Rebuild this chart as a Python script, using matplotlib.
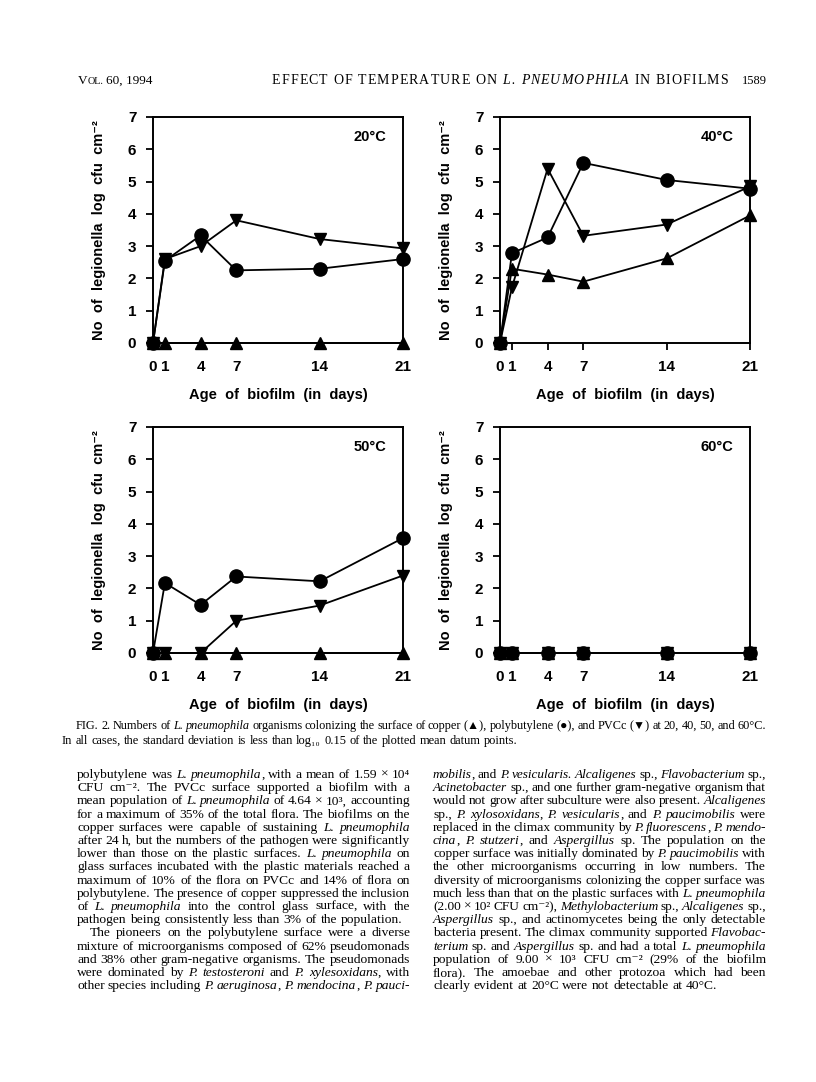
import matplotlib.pyplot as plt

# data (log cfu cm-2)
days = [0, 1, 4, 7, 14, 21]
copper_20 = [0, 0, 0, 0, 0, 0]
poly_20 = [0, 2.55, 3.33, 2.25, 2.30, 2.60]
pvcc_20 = [0, 2.60, 3.00, 3.80, 3.22, 2.93]
copper_40 = [0, 2.30, 2.12, 1.90, 2.62, 3.95]
poly_40 = [0, 2.78, 3.27, 5.58, 5.05, 4.78]
pvcc_40 = [0, 1.72, 5.40, 3.32, 3.67, 4.85]
copper_50 = [0, 0, 0, 0, 0, 0]
poly_50 = [0, 2.17, 1.49, 2.37, 2.22, 3.56]
pvcc_50 = [0, 0, 0, 1.00, 1.47, 2.40]
copper_60 = [0, 0, 0, 0, 0, 0]
poly_60 = [0, 0, 0, 0, 0, 0]
pvcc_60 = [0, 0, 0, 0, 0, 0]
temps = ["20°C", "40°C", "50°C", "60°C"]

header_mid = "EFFECT OF TEMPERATURE ON *L. PNEUMOPHILA* IN BIOFILMS"
page_no = "1589"
caption = [
    "FIG. 2. Numbers of *L. pneumophila* organisms colonizing the surface of copper (▲), polybutylene (●), and PVCc (▼) at 20, 40, 50, and 60°C.",
    "In all cases, the standard deviation is less than log₁₀ 0.15 of the plotted mean datum points.|",
]
left_col = [
    "polybutylene was *L. pneumophila*, with a mean of 1.59 × 10⁴",
    "CFU cm⁻². The PVCc surface supported a biofilm with a",
    "mean population of *L. pneumophila* of 4.64 × 10³, accounting",
    "for a maximum of 35% of the total flora. The biofilms on the",
    "copper surfaces were capable of sustaining *L. pneumophila*",
    "after 24 h, but the numbers of the pathogen were significantly",
    "lower than those on the plastic surfaces. *L. pneumophila* on",
    "glass surfaces incubated with the plastic materials reached a",
    "maximum of 10% of the flora on PVCc and 14% of flora on",
    "polybutylene. The presence of copper suppressed the inclusion",
    "of *L. pneumophila* into the control glass surface, with the",
    "pathogen being consistently less than 3% of the population.|",
    ">The pioneers on the polybutylene surface were a diverse",
    "mixture of microorganisms composed of 62% pseudomonads",
    "and 38% other gram-negative organisms. The pseudomonads",
    "were dominated by *P. testosteroni* and *P. xylesoxidans*, with",
    "other species including *P. aeruginosa*, *P. mendocina*, *P. pauci-*",
]
right_col = [
    "*mobilis*, and *P. vesicularis. Alcaligenes* sp., *Flavobacterium* sp.,",
    "*Acinetobacter* sp., and one further gram-negative organism that",
    "would not grow after subculture were also present. *Alcaligenes*",
    "sp., *P. xylosoxidans*, *P. vesicularis*, and *P. paucimobilis* were",
    "replaced in the climax community by *P. fluorescens*, *P. mendo-*",
    "*cina*, *P. stutzeri*, and *Aspergillus* sp. The population on the",
    "copper surface was initially dominated by *P. paucimobilis* with",
    "the other microorganisms occurring in low numbers. The",
    "diversity of microorganisms colonizing the copper surface was",
    "much less than that on the plastic surfaces with *L. pneumophila*",
    "(2.00 × 10² CFU cm⁻²), *Methylobacterium* sp., *Alcaligenes* sp.,",
    "*Aspergillus* sp., and actinomycetes being the only detectable",
    "bacteria present. The climax community supported *Flavobac-*",
    "*terium* sp. and *Aspergillus* sp. and had a total *L. pneumophila*",
    "population of 9.00 × 10³ CFU cm⁻² (29% of the biofilm",
    "flora). The amoebae and other protozoa which had been",
    "clearly evident at 20°C were not detectable at 40°C.|",
]

W, H = 816, 1082
fig = plt.figure(figsize=(W / 100, H / 100), dpi=100)
sans = ["Liberation Sans", "DejaVu Sans"]
serif = ["Liberation Serif", "DejaVu Serif", "DejaVu Sans"]

# ---- the four panels ----
panels = [
    (153, 117, copper_20, poly_20, pvcc_20),
    (500, 117, copper_40, poly_40, pvcc_40),
    (153, 427, copper_50, poly_50, pvcc_50),
    (500, 427, copper_60, poly_60, pvcc_60),
]
for (px, py, cu, pb, pv), temp in zip(panels, temps):
    ax = fig.add_axes([px / W, 1 - (py + 226) / H, 250 / W, 226 / H])
    kw = dict(color="black", lw=1.3, clip_on=False, zorder=4)
    ax.plot(days, pv, marker="v", ms=8, **kw)
    ax.plot(days, cu, marker="^", ms=8, **kw)
    ax.plot(days, pb, marker="o", ms=9.5, **kw)
    ax.set_xlim(0, 21)
    ax.set_ylim(0, 7)
    ax.set_xticks(days)
    ax.set_yticks(range(8))
    for s in ax.spines.values():
        s.set_linewidth(1.4)
    ax.tick_params(direction="out", length=5, width=1.3, labelsize=11)
    ax.tick_params(axis="x", pad=7)
    ax.tick_params(axis="y", pad=7)
    for lab in ax.get_xticklabels() + ax.get_yticklabels():
        lab.set_family(sans)
        lab.set_fontweight("bold")
    ax.set_xlabel("Age  of  biofilm  (in  days)", family=sans, fontweight="bold",
                  fontsize=10.5, labelpad=10)
    ax.set_ylabel("No  of  legionella  log  cfu  cm⁻²", family=sans, fontweight="bold",
                  fontsize=10.5, labelpad=16)
    ax.text(0.868, 0.91, temp, transform=ax.transAxes, ha="center", va="center",
            family=sans, fontweight="bold", fontsize=10.5)

# ---- page text ----
renderer = fig.canvas.get_renderer()


def add_piece(s, size, italic, x, y):
    t = fig.text(x / W, 1 - y / H, s, fontsize=size, family=serif,
                 style="italic" if italic else "normal", ha="left", va="baseline")
    return t, t.get_window_extent(renderer).width


def parse(line):
    words, cur = [], []
    for i, part in enumerate(line.split("*")):
        for j, s in enumerate(part.split(" ")):
            if j > 0 and cur:
                words.append(cur)
                cur = []
            if s:
                cur.append((s, i % 2 == 1))
    if cur:
        words.append(cur)
    return words


def draw_line(line, x0, x1, y, size, justify=True, indent=0):
    if line.endswith("|"):
        line, justify = line[:-1], False
    if line.startswith(">"):
        line, indent = line[1:], 13
    words = parse(line)
    x = x0 + indent
    # shrink a line that would not fit with a reasonable word gap
    while True:
        space = 0.27 * size * 100 / 72
        placed, total = [], 0
        for w in words:
            objs = [add_piece(s, size, it, x, y) for s, it in w]
            placed.append(objs)
            total += sum(bw for _, bw in objs)
        gap = space
        if justify and len(words) > 1:
            gap = (x1 - x - total) / (len(words) - 1)
        if gap >= 0.7 * space or size < 7:
            break
        for objs in placed:
            for t, _ in objs:
                t.remove()
        size -= 0.1
    for objs in placed:
        for t, bw in objs:
            t.set_position((x / W, 1 - y / H))
            x += bw
        x += gap


def draw_tracked(line, x0, x1, y, size):
    # letter-spaced running head
    chars = []
    for w in parse(line):
        for s, it in w:
            for c in s:
                chars.append(add_piece(c, size, it, x0, y))
        chars.append(None)
    chars = chars[:-1]
    space = 0.25 * size * 100 / 72
    n_sp = chars.count(None)
    letters = [c for c in chars if c is not None]
    total = sum(bw for _, bw in letters) + n_sp * space
    track = (x1 - x0 - total) / (len(chars) - 1)
    x = x0
    for c in chars:
        if c is None:
            x += space + track
            continue
        t, bw = c
        t.set_position((x / W, 1 - y / H))
        x += bw + track


# header
t, bw = add_piece("V", 9.5, False, 78, 84)
t2, bw2 = add_piece("OL.", 7.3, False, 78 + bw, 84)
add_piece("60, 1994", 9.5, False, 78 + bw + bw2 + 3, 84)
draw_tracked(header_mid, 272, 728, 84, 10)
fig.text(767 / W, 1 - 84 / H, page_no, fontsize=9, family=serif, ha="right", va="baseline")

# caption
draw_line(caption[0], 62, 766, 729, 8.9, indent=14)
draw_line(caption[1], 62, 766, 744, 8.9)

# body columns
for i, line in enumerate(left_col):
    draw_line(line, 77, 410, 778 + i * 13.2, 9.7)
for i, line in enumerate(right_col):
    draw_line(line, 433, 766, 778 + i * 13.2, 9.7)

fig.savefig("out.png", dpi=100)
